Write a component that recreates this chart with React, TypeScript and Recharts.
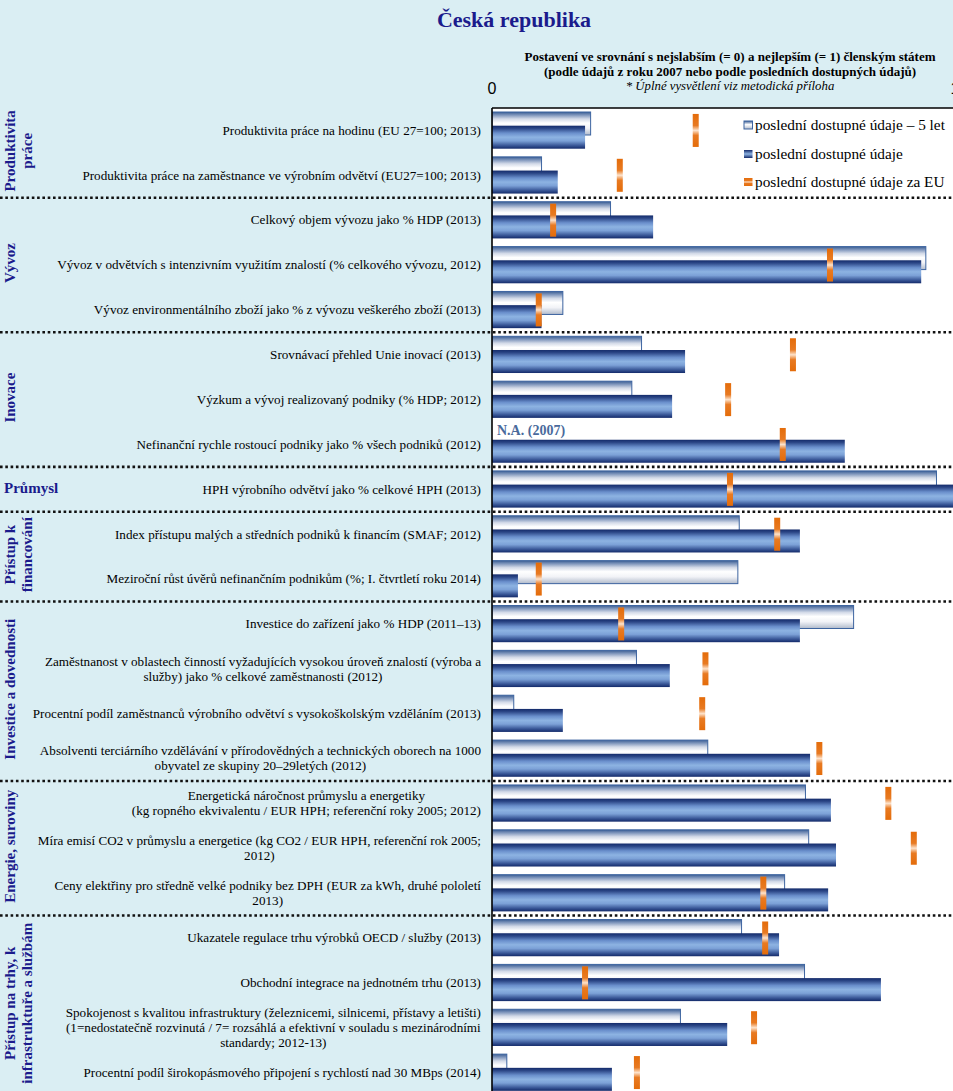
import React from "react";
import { ComposedChart, Bar, Line, XAxis, YAxis, CartesianGrid, Legend } from "recharts";

const categories: string[] = [
  "Produktivita práce na hodinu (EU 27=100; 2013)",
  "Produktivita práce na zaměstnance ve výrobním odvětví (EU27=100; 2013)",
  "Celkový objem vývozu jako % HDP (2013)",
  "Vývoz v odvětvích s intenzivním využitím znalostí (% celkového vývozu, 2012)",
  "Vývoz environmentálního zboží jako % z vývozu veškerého zboží (2013)",
  "Srovnávací přehled Unie inovací (2013)",
  "Výzkum a vývoj realizovaný podniky (% HDP; 2012)",
  "Nefinanční rychle rostoucí podniky jako % všech podniků (2012)",
  "HPH výrobního odvětví jako % celkové HPH (2013)",
  "Index přístupu malých a středních podniků k financím (SMAF; 2012)",
  "Meziroční růst úvěrů nefinančním podnikům (%; I. čtvrtletí roku 2014)",
  "Investice do zařízení jako % HDP (2011–13)",
  "Zaměstnanost v oblastech činností vyžadujících vysokou úroveň znalostí (výroba a\nslužby) jako % celkové zaměstnanosti (2012)",
  "Procentní podíl zaměstnanců výrobního odvětví s vysokoškolským vzděláním (2013)",
  "Absolventi terciárního vzdělávání v přírodovědných a technických oborech na 1000\nobyvatel ze skupiny 20–29letých (2012)",
  "Energetická náročnost průmyslu a energetiky\n(kg ropného ekvivalentu / EUR HPH; referenční roky 2005; 2012)",
  "Míra emisí CO2 v průmyslu a energetice (kg CO2 / EUR HPH, referenční rok 2005;\n2012)",
  "Ceny elektřiny pro středně velké podniky bez DPH (EUR za kWh, druhé pololetí\n2013)",
  "Ukazatele regulace trhu výrobků OECD / služby (2013)",
  "Obchodní integrace na jednotném trhu (2013)",
  "Spokojenost s kvalitou infrastruktury (železnicemi, silnicemi, přístavy a letišti)\n(1=nedostatečně rozvinutá / 7= rozsáhlá a efektivní v souladu s mezinárodními\nstandardy; 2012-13)",
  "Procentní podíl širokopásmového připojení s rychlostí nad 30 MBps (2014)",
];

const previousValues: (number | null)[] = [
  0.213, 0.107, 0.256, 0.937, 0.153, 0.323, 0.302, null, 0.96, 0.534, 0.531,
  0.781, 0.312, 0.047, 0.466, 0.677, 0.684, 0.632, 0.539, 0.675, 0.407, 0.032,
];

const latestValues: number[] = [
  0.201, 0.142, 0.348, 0.927, 0.107, 0.417, 0.389, 0.762, 1.0, 0.665, 0.056,
  0.665, 0.384, 0.153, 0.687, 0.732, 0.743, 0.726, 0.62, 0.84, 0.508, 0.259,
];

const euValues: number[] = [
  0.44, 0.276, 0.132, 0.73, 0.101, 0.65, 0.51, 0.628, 0.514, 0.616, 0.101,
  0.279, 0.461, 0.454, 0.707, 0.856, 0.911, 0.586, 0.59, 0.201, 0.566, 0.313,
];

const groupNames: string[] = [
  "Produktivita\npráce",
  "Vývoz",
  "Inovace",
  "Průmysl",
  "Přístup k\nfinancování",
  "Investice a dovednosti",
  "Energie, suroviny",
  "Přístup na trhy, k\ninfrastruktuře a službám",
];
const groupSizes: number[] = [2, 3, 3, 1, 2, 4, 3, 4];

const axisTicks: number[] = [0, 1];
const legendLabels: string[] = [
  "poslední dostupné údaje – 5 let",
  "poslední dostupné údaje",
  "poslední dostupné údaje za EU",
];
const titleText = "Česká republika";
const subtitleLines: string[] = [
  "Postavení ve srovnání s nejslabším (= 0) a nejlepším (= 1) členským státem",
  "(podle údajů z roku 2007 nebo podle posledních dostupných údajů)",
];
const noteText = "* Úplné vysvětlení viz metodická příloha";
const naText = "N.A. (2007)";

const data = categories.map((name, i) => ({
  name,
  old: previousValues[i],
  latest: latestValues[i],
  eu: euValues[i],
}));

const CHART_W = 960;
const CHART_H = 1095;
const M_TOP = 78;
const X_H = 30;
const Y_W = 492;
const BAND = (CHART_H - M_TOP - X_H) / categories.length;

const NAVY = "#1b1b8c";
const SERIF = "'Liberation Serif', 'Times New Roman', serif";
const LABEL_SIZE = 13.15;

const groupStartMap: Record<number, number> = {};
const groupEndSet = new Set<number>();
{
  let acc = 0;
  groupSizes.forEach((s, g) => {
    groupStartMap[acc] = g;
    groupEndSet.add(acc + s - 1);
    acc += s;
  });
}

let measureCtx: CanvasRenderingContext2D | null = null;
function measure(text: string, font: string): number {
  if (!measureCtx) {
    const c = document.createElement("canvas");
    measureCtx = c.getContext("2d");
  }
  if (!measureCtx) return text.length * 6;
  measureCtx.font = font;
  return measureCtx.measureText(text).width;
}

function CategoryTick(props: any) {
  const { x, y, payload, index } = props;
  const lines = String(payload.value).split("\n");
  const font = `${LABEL_SIZE}px 'Liberation Serif'`;
  const multi = lines.length > 1;
  const maxW = Math.max(...lines.map((l) => measure(l, font)));
  const lh = 15;
  const y0 = y - ((lines.length - 1) * lh) / 2;
  const els: React.ReactNode[] = [];
  lines.forEach((l, i) => {
    els.push(
      <text
        key={"l" + i}
        x={multi ? x - maxW / 2 : x}
        y={y0 + i * lh}
        dy="0.33em"
        textAnchor={multi ? "middle" : "end"}
        fontFamily={SERIF}
        fontSize={LABEL_SIZE}
        fill="#000"
      >
        {l}
      </text>
    );
  });
  if (groupEndSet.has(index) && index < categories.length - 1) {
    const ly = y + BAND / 2;
    els.push(
      <line
        key="sep"
        x1={0}
        x2={CHART_W}
        y1={ly}
        y2={ly}
        stroke="#111"
        strokeWidth={2.6}
        strokeDasharray="2.6 2.7"
      />
    );
  }
  if (index in groupStartMap) {
    const g = groupStartMap[index];
    const size = groupSizes[g];
    const cy = y + ((size - 1) * BAND) / 2 - 2;
    const gl = groupNames[g].split("\n");
    if (size === 1) {
      els.push(
        <text
          key="grp"
          x={4}
          y={cy}
          dy="0.35em"
          textAnchor="start"
          fontFamily={SERIF}
          fontWeight="bold"
          fontSize={15}
          fill={NAVY}
        >
          {gl[0]}
        </text>
      );
    } else {
      const bx = 15;
      els.push(
        <text
          key="grp"
          transform={`rotate(-90 ${bx} ${cy})`}
          textAnchor="middle"
          fontFamily={SERIF}
          fontWeight="bold"
          fontSize={15}
          fill={NAVY}
        >
          {gl.map((t, i) => (
            <tspan key={i} x={bx} y={cy + i * 17.5}>
              {t}
            </tspan>
          ))}
        </text>
      );
    }
  }
  return <g>{els}</g>;
}

function ValueTick(props: any) {
  const { x, y, payload } = props;
  return (
    <text
      x={x}
      y={y}
      textAnchor="middle"
      fontFamily="'Liberation Sans', Arial, sans-serif"
      fontSize={16}
      fill="#000"
    >
      {payload.value}
    </text>
  );
}

function PrevBar(props: any) {
  const { x, y, width, height } = props;
  if (!width || width <= 0) return null;
  return (
    <rect
      x={x}
      y={y}
      width={width}
      height={height}
      fill="url(#gradPrev)"
      stroke="#3d64a0"
      strokeWidth={1}
    />
  );
}

function LatestBar(props: any) {
  const { x, y, width, height, payload } = props;
  return (
    <g>
      {width > 0 && (
        <rect x={x} y={y} width={width} height={height} fill="url(#gradLatest)" />
      )}
      {payload && payload.old == null && (
        <text
          x={x + 5}
          y={y - 5}
          fontFamily={SERIF}
          fontWeight="bold"
          fontSize={14}
          fill="#4a6a9c"
        >
          {naText}
        </text>
      )}
    </g>
  );
}

function EuMarker(props: any) {
  const { cx, cy, index } = props;
  if (cx == null || cy == null) return <g key={"eu" + index} />;
  return (
    <rect
      key={"eu" + index}
      x={cx - 3}
      y={cy - 16.5}
      width={6}
      height={33}
      fill="url(#gradEu)"
    />
  );
}

function LegendSymbol({ kind }: { kind: number }) {
  const fills = ["url(#lgPrev)", "url(#lgLatest)", "url(#lgEu)"];
  return (
    <svg width={11} height={10} style={{ display: "block" }}>
      <defs>
        <linearGradient id="lgPrev" x1="0" y1="0" x2="0" y2="1">
          <stop offset="0%" stopColor="#3a5d93" />
          <stop offset="45%" stopColor="#ffffff" />
          <stop offset="100%" stopColor="#b0bacb" />
        </linearGradient>
        <linearGradient id="lgLatest" x1="0" y1="0" x2="0" y2="1">
          <stop offset="0%" stopColor="#132a6a" />
          <stop offset="50%" stopColor="#8db3e2" />
          <stop offset="100%" stopColor="#132a6a" />
        </linearGradient>
        <linearGradient id="lgEu" x1="0" y1="0" x2="0" y2="1">
          <stop offset="0%" stopColor="#e46c0a" />
          <stop offset="35%" stopColor="#e87a22" />
          <stop offset="50%" stopColor="#fde3cc" />
          <stop offset="65%" stopColor="#e87a22" />
          <stop offset="100%" stopColor="#e46c0a" />
        </linearGradient>
      </defs>
      <rect
        x={1}
        y={1}
        width={8.5}
        height={8}
        fill={fills[kind]}
        stroke={kind === 0 ? "#3d64a0" : "none"}
        strokeWidth={1}
      />
    </svg>
  );
}

function LegendContent() {
  return (
    <div style={{ fontFamily: SERIF, fontSize: 15.3, color: "#000" }}>
      {legendLabels.map((t, i) => (
        <div
          key={i}
          style={{ display: "flex", alignItems: "center", height: 28.5, whiteSpace: "nowrap" }}
        >
          <LegendSymbol kind={i} />
          <span style={{ marginLeft: 1 }}>{t}</span>
        </div>
      ))}
    </div>
  );
}

export default function App() {
  return (
    <div
      style={{
        position: "absolute",
        left: 0,
        top: 0,
        width: 953,
        height: 1091,
        overflow: "hidden",
        background: "#daeef3",
      }}
    >
      <div
        style={{
          position: "absolute",
          left: 314,
          top: 6,
          width: 400,
          textAlign: "center",
          fontFamily: SERIF,
          fontWeight: "bold",
          fontSize: 22,
          lineHeight: "28px",
          color: NAVY,
        }}
      >
        {titleText}
      </div>
      <div
        style={{
          position: "absolute",
          left: 480,
          top: 48.5,
          width: 500,
          textAlign: "center",
          fontFamily: SERIF,
          fontSize: 13,
          lineHeight: "15px",
          color: "#000",
        }}
      >
        {subtitleLines.map((t, i) => (
          <div key={i} style={{ fontWeight: "bold" }}>
            {t}
          </div>
        ))}
        <div style={{ fontStyle: "italic", fontSize: 12.8 }}>{noteText}</div>
      </div>
      <div style={{ position: "absolute", left: 0, top: 0 }}>
        <ComposedChart
          layout="vertical"
          width={CHART_W}
          height={CHART_H}
          data={data}
          margin={{ top: M_TOP, right: 5, bottom: 0, left: 0 }}
          barGap={-9.3}
        >
          <defs>
            <linearGradient id="gradPrev" x1="0" y1="0" x2="0" y2="1">
              <stop offset="0%" stopColor="#3a5d93" />
              <stop offset="12%" stopColor="#7890b8" />
              <stop offset="30%" stopColor="#d3dae8" />
              <stop offset="48%" stopColor="#ffffff" />
              <stop offset="70%" stopColor="#f2f3f7" />
              <stop offset="100%" stopColor="#b0bacb" />
            </linearGradient>
            <linearGradient id="gradLatest" x1="0" y1="0" x2="0" y2="1">
              <stop offset="0%" stopColor="#132a6a" />
              <stop offset="12%" stopColor="#2c4787" />
              <stop offset="32%" stopColor="#6a8fcc" />
              <stop offset="50%" stopColor="#8db3e2" />
              <stop offset="66%" stopColor="#7ca1d7" />
              <stop offset="86%" stopColor="#3a5898" />
              <stop offset="100%" stopColor="#132a6a" />
            </linearGradient>
            <linearGradient id="gradEu" x1="0" y1="0" x2="0" y2="1">
              <stop offset="0%" stopColor="#e46c0a" />
              <stop offset="35%" stopColor="#e87a22" />
              <stop offset="50%" stopColor="#fde3cc" />
              <stop offset="65%" stopColor="#e87a22" />
              <stop offset="100%" stopColor="#e46c0a" />
            </linearGradient>
          </defs>
          <CartesianGrid fill="#ffffff" horizontal={false} vertical={false} stroke="none" />
          <XAxis
            type="number"
            orientation="top"
            domain={[0, 1]}
            ticks={axisTicks}
            height={X_H}
            tick={(p: any) => <ValueTick {...p} />}
            tickLine={false}
            tickSize={6}
            tickMargin={8.5}
            axisLine={{ stroke: "#000", strokeWidth: 1.6 }}
            interval={0}
            allowDataOverflow
          />
          <YAxis
            type="category"
            dataKey="name"
            width={Y_W}
            tick={(p: any) => <CategoryTick {...p} />}
            tickLine={false}
            tickSize={6}
            tickMargin={5}
            axisLine={{ stroke: "#000", strokeWidth: 1.6 }}
            interval={0}
          />
          <Legend
            content={() => <LegendContent />}
            layout="horizontal"
            verticalAlign="middle"
            align="center"
            wrapperStyle={{ position: "absolute", left: 743, top: 111, width: 215 }}
          />
          <Bar dataKey="old" barSize={23} shape={(p: any) => <PrevBar {...p} />} isAnimationActive={false} />
          <Bar dataKey="latest" barSize={23} shape={(p: any) => <LatestBar {...p} />} isAnimationActive={false} />
          <Line
            dataKey="eu"
            stroke="none"
            strokeWidth={0}
            dot={(p: any) => <EuMarker key={"eu" + p.index} {...p} />}
            activeDot={false}
            isAnimationActive={false}
            legendType="none"
          />
        </ComposedChart>
      </div>
    </div>
  );
}
